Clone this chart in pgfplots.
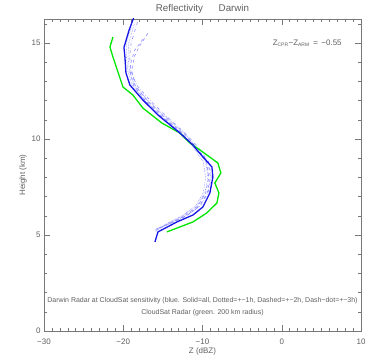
\documentclass[border=0pt]{standalone}
\usepackage{pgfplots}
\pgfplotsset{compat=1.18}
\usepackage{fontspec}
\setmainfont{Liberation Sans}
\usetikzlibrary{calc}
\definecolor{axgray}{RGB}{120,120,120}
\definecolor{txtgray}{RGB}{95,95,95}
\definecolor{lblue}{RGB}{140,140,255}
\begin{document}
\begin{tikzpicture}
\begin{axis}[
  scale only axis,
  width=317bp, height=312bp,
  xmin=-30, xmax=10, ymin=0, ymax=16.25,
  xtick={-30,-20,-10,0,10}, ytick={0,5,10,15},
  minor xtick={-29,...,9}, minor ytick={1,2,3,4,6,7,8,9,11,12,13,14,16},
  tick align=inside,
  major tick length=6bp, minor tick length=3bp,
  axis line style={axgray, line width=0.5pt},
  every tick/.style={axgray, line width=0.5pt},
  tick label style={font=\fontsize{8}{9}\selectfont, text=txtgray},
  xticklabel style={yshift=-4bp},
  /pgf/number format/assume math mode=true,
  xticklabel={\ifdim\tick pt<0pt −\pgfmathparse{abs(\tick)}\pgfmathprintnumber{\pgfmathresult}\else\pgfmathprintnumber{\tick}\fi},
  xlabel={Z (dBZ)}, ylabel={Height (km)},
  label style={font=\fontsize{8}{9}\selectfont, text=txtgray},
  xlabel style={yshift=3bp},
  ylabel style={yshift=-2bp},
  title={Reflectivity\hspace{1.6em}Darwin},
  title style={font=\fontsize{9.8}{11}\selectfont, text=txtgray, yshift=-4bp},
  clip=true,
]
% dashed +-2h
\addplot[lblue, dashed, line width=0.6pt] coordinates {(-16.9,15.5) (-18.0,14.8) (-18.6,14.3) (-18.9,13.5) (-18.5,12.8) (-17.0,12.0) (-15.0,11.2) (-12.5,10.3) (-10.8,9.6) (-9.3,8.8) (-9.0,8.0) (-9.4,7.2) (-10.4,6.5) (-12.0,6.0) (-14.0,5.6) (-15.8,5.3)};
\addplot[lblue, dashed, line width=0.6pt] coordinates {(-17.5,15.2) (-18.6,14.6) (-19.0,14.0) (-19.1,13.4) (-18.7,12.8) (-17.2,12.0) (-15.2,11.2) (-12.7,10.3) (-11.0,9.6) (-9.5,8.8) (-9.2,8.0) (-9.6,7.2) (-10.6,6.5) (-12.2,6.0) (-14.2,5.6) (-15.9,5.3)};
% dotted +-1h
\addplot[lblue, densely dotted, line width=0.6pt] coordinates {(-18.6,16.0) (-19.3,15.0) (-19.4,14.3) (-19.2,13.5) (-18.6,12.8) (-16.9,12.0) (-14.8,11.2) (-12.3,10.3) (-10.9,9.6) (-9.6,8.8) (-9.3,8.0) (-9.7,7.2) (-10.7,6.5) (-12.4,6.0) (-14.3,5.6) (-15.9,5.2)};
\addplot[lblue, densely dotted, line width=0.6pt] coordinates {(-19.0,15.8) (-19.6,15.0) (-19.6,14.3) (-19.4,13.5) (-18.9,12.8) (-17.3,12.0) (-15.3,11.2) (-12.6,10.3) (-11.2,9.6) (-9.9,8.8) (-9.6,8.0) (-9.9,7.2) (-10.9,6.5) (-12.6,6.0) (-14.5,5.6) (-16.0,5.2)};
% dash-dot +-3h
\addplot[lblue, dashdotted, line width=0.6pt] coordinates {(-18.2,16.1) (-19.0,15.0) (-19.2,14.3) (-19.0,13.5) (-18.3,12.8) (-16.6,12.0) (-14.6,11.2) (-12.2,10.3) (-10.6,9.6) (-9.2,8.8) (-8.9,8.0) (-9.3,7.2) (-10.3,6.5) (-12.1,6.0) (-14.1,5.6) (-15.9,5.3)};
% green CloudSat
\addplot[color={rgb,255:red,0;green,230;blue,0}, line width=1.3pt] coordinates {(-21.30,15.31) (-21.68,14.79) (-21.30,14.27) (-20.67,13.49) (-20.04,12.71) (-18.78,12.29) (-17.52,11.61) (-15.12,10.83) (-12.85,10.31) (-11.59,9.79) (-10.33,9.43) (-8.06,8.75) (-7.68,8.23) (-8.44,7.71) (-7.93,7.19) (-8.18,6.67) (-9.45,6.15) (-11.21,5.68) (-14.49,5.16)};
% blue solid all
\addplot[color={rgb,255:red,20;green,20;blue,230}, line width=1.3pt] coordinates {(-18.7,16.3) (-19.28,15.65) (-19.91,14.77) (-19.79,14.27) (-19.66,13.44) (-19.16,12.81) (-17.52,12.03) (-15.62,11.25) (-12.85,10.31) (-11.21,9.69) (-10.71,9.43) (-8.81,8.54) (-8.69,8.02) (-9.07,7.19) (-9.95,6.46) (-11.21,6.04) (-13.23,5.68) (-15.62,5.16) (-16.0,4.64)};
\node[anchor=east, font=\fontsize{8}{9}\selectfont, text=txtgray] at (axis cs:8.0,15.0) {Z\textsubscript{\fontsize{5}{6}\selectfont CPR}−Z\textsubscript{\fontsize{5}{6}\selectfont ARM} \,=\, −0.55};
\node[font=\fontsize{7}{8}\selectfont, text=txtgray] at (axis cs:-10.0,1.6) {Darwin Radar at CloudSat sensitivity (blue. Solid=all, Dotted=+−1h, Dashed=+−2h, Dash−dot=+−3h)};
\node[font=\fontsize{7}{8}\selectfont, text=txtgray] at (axis cs:-10.0,0.95) {CloudSat Radar (green. 200 km radius)};
\end{axis}
\pgfresetboundingbox
\useasboundingbox ($(current axis.south west)+(-44bp,-31bp)$) rectangle ($(current axis.north east)+(6bp,19bp)$);
\end{tikzpicture}
\end{document}
